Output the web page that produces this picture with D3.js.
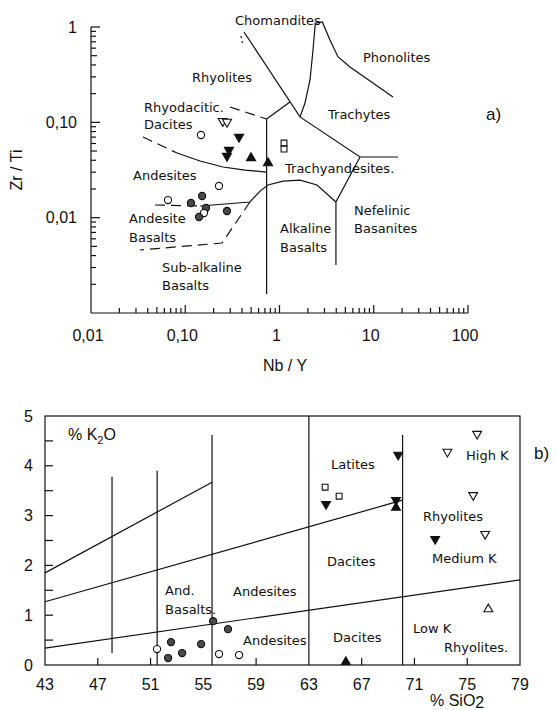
<!DOCTYPE html>
<html>
<head>
<meta charset="utf-8">
<script src="https://cdn.jsdelivr.net/npm/d3@7"></script>
<style>
body{margin:0;background:#fff;}
svg{display:block;}
.lbl{font-family:"DejaVu Sans",sans-serif;font-size:13px;fill:#111;}
.tick{font-family:"Liberation Sans",Arial,sans-serif;font-size:16px;fill:#111;}
.ln{fill:none;stroke:#111;stroke-width:1.2;}
</style>
</head>
<body>
<div id="canvas"></div>
<script>
// ---- panel a : Zr/Ti vs Nb/Y ----
var aNbY  = [0.25,0.277,0.147,0.372,0.291,0.277,0.499,0.755,1.117,1.117,
             0.228,0.0656,0.115,0.151,0.166,0.158,0.140,0.277];
var aZrTi = [0.103,0.101,0.0736,0.0702,0.0513,0.0443,0.0423,0.0374,0.0607,0.0525,
             0.0215,0.0153,0.01425,0.01687,0.01263,0.01119,0.01016,0.01175];
var aType = ["od","od","oc","fd","fd","fd","ft","ft","os","os",
             "oc","oc","fc","fc","fc","oc","fc","fc"];
var aXTicks = [0.01,0.1,1,10,100];
var aXTickLabels = ["0,01","0,10","1","10","100"];
var aYTicks = [1,0.1,0.01];
var aYTickLabels = ["1","0,10","0,01"];

// field boundaries [Nb/Y, Zr/Ti]
var aSolid = [
  [[0.42,0.887],[1.65,0.114],[7.15,0.0433],[18.1,0.0433]],
  [[7.15,0.0433],[3.97,0.0146],[3.97,0.00319]],
  [[0.73,0.1084],[1.29,0.1634]],
  [[0.73,0.1084],[0.73,0.00158]],
  [[0.0818,0.0477],[0.1434,0.0393],[0.2515,0.034],[0.4305,0.0316],[0.73,0.0301]],
  [[0.1434,0.01325],[0.486,0.0146],[0.621,0.019],[0.755,0.022],[1.089,0.0242],[1.65,0.0248],[2.5,0.022],[3.97,0.0146]],
  [[1.65,0.114],[1.865,0.1595],[2.107,0.278],[2.267,0.574],[2.4,1.1],[2.85,1.13],[3.43,0.731],[4.18,0.485],[5.6,0.3805],[16.0,0.1844]]
];
var aDashed = [
  [[0.2985,0.145],[0.73,0.1084]],
  [[0.0356,0.0702],[0.0818,0.0477]],
  [[0.0478,0.01358],[0.1434,0.01325]],
  [[0.486,0.0146],[0.2455,0.00542],[0.0331,0.00458]]
];

// ---- panel b : K2O vs SiO2 ----
var bSiO2 = [51.49,52.55,52.33,53.39,54.83,55.74,56.87,56.19,57.71,
             65.8,76.6,75.75,73.5,75.45,76.36,72.57,69.77,64.23,65.29,64.3,69.6,69.6];
var bK2O  = [0.32,0.46,0.14,0.24,0.42,0.88,0.72,0.22,0.20,
             0.06,1.12,4.64,4.28,3.41,2.63,2.53,4.22,3.57,3.39,3.23,3.31,3.16];
var bType = ["oc","fc","fc","fc","fc","fc","fc","oc","oc",
             "ft","ot","od","od","od","od","fd","fd","os","os","fd","fd","ft"];
var bXTicks = [43,47,51,55,59,63,67,71,75,79];
var bYTicks = [0,1,2,3,4,5];
var bVert = [[48.08,0.24,3.78],[51.5,0,3.9],[55.66,0,4.62],[63,0,5],[70.1,0,4.62]];
var bSlant = [
  [[43,1.85],[55.66,3.67]],
  [[43,1.27],[70.1,3.31]],
  [[43,0.34],[79,1.71]]
];

var W = 557, H = 710;
var svg = d3.select("#canvas").append("svg").attr("width",W).attr("height",H);

function drawMarks(g, xs, ys, types, sx, sy, sz){
  types.forEach(function(t,i){
    var x = sx(xs[i]), y = sy(ys[i]);
    var filled = t.charAt(0)=="f";
    var kind = t.charAt(1);
    var m;
    if(kind=="c"){
      m = g.append("circle").attr("cx",x).attr("cy",y).attr("r",sz.c);
    }else{
      var sym = kind=="s" ? d3.symbolSquare : d3.symbolTriangle;
      var size = kind=="s" ? sz.s : sz.t;
      var rot = kind=="d" ? 180 : 0;
      m = g.append("path").attr("d",d3.symbol().type(sym).size(size)())
        .attr("transform","translate("+x+","+y+") rotate("+rot+")");
    }
    m.attr("stroke","#111").attr("stroke-width",1.1)
     .attr("fill", filled ? (kind=="c" ? "#4a4a4a" : "#111") : "#fff");
  });
}

// ===== panel a =====
var ax = d3.scaleLog().domain([0.01,100]).range([91,468]);
var ay = d3.scaleLog().domain([0.001,1]).range([313,27]);
var ga = svg.append("g");

// axes, ticks pointing inward
ga.append("line").attr("class","ln").attr("x1",ax(0.01)).attr("x2",ax(100)).attr("y1",ay(0.001)).attr("y2",ay(0.001));
ga.append("line").attr("class","ln").attr("x1",ax(0.01)).attr("x2",ax(0.01)).attr("y1",ay(0.001)).attr("y2",ay(1));
[0.01,0.1,1,10].forEach(function(d){
  for(var k=2;k<=10;k++){
    var v=d*k, L=(k==10)?8:(k==5?6:5);
    ga.append("line").attr("class","ln").attr("x1",ax(v)).attr("x2",ax(v)).attr("y1",ay(0.001)).attr("y2",ay(0.001)-L);
  }
});
[0.001,0.01,0.1].forEach(function(d){
  for(var k=2;k<=10;k++){
    var v=d*k, L=(k==10)?9:(k==5?6:5);
    ga.append("line").attr("class","ln").attr("x1",ax(0.01)).attr("x2",ax(0.01)+L).attr("y1",ay(v)).attr("y2",ay(v));
  }
});
aXTicks.forEach(function(v,i){
  ga.append("text").attr("class","tick").attr("x",ax(v)-3).attr("y",341)
    .attr("text-anchor","middle").text(aXTickLabels[i]);
});
aYTicks.forEach(function(v,i){
  ga.append("text").attr("class","tick").attr("x",77).attr("y",ay(v)).attr("dy","0.35em")
    .attr("text-anchor","end").text(aYTickLabels[i]);
});
ga.append("text").attr("class","tick").attr("x",285).attr("y",371).attr("text-anchor","middle").text("Nb / Y");
ga.append("text").attr("class","tick").attr("transform","translate(22,170) rotate(-90)")
  .attr("text-anchor","middle").text("Zr / Ti");

var aLine = d3.line().x(function(d){return ax(d[0]);}).y(function(d){return ay(d[1]);});
aSolid.forEach(function(p){ ga.append("path").attr("class","ln").attr("d",aLine(p)); });
aDashed.forEach(function(p){ ga.append("path").attr("class","ln").attr("stroke-dasharray","10,6").attr("d",aLine(p)); });
ga.append("path").attr("class","ln").attr("stroke-dasharray","2,3").attr("d",aLine([[0.39,0.8],[0.41,0.63]]));

var aLabels = [
  ["Chomandites",235,25],["Phonolites",363,62],["Trachytes",328,119],["Rhyolites",192,82],
  ["Rhyodacitic.",144,112],["Dacites",144,129],["Andesites",133,180],["Andesite",129,223],
  ["Basalts",129,242],["Sub-alkaline",162,272],["Basalts",162,290],["Trachyandesites.",285,173],
  ["Alkaline",280,233],["Basalts",280,252],["Nefelinic",354,215],["Basanites",354,233]
];
aLabels.forEach(function(l){ ga.append("text").attr("class","lbl").attr("x",l[1]).attr("y",l[2]).text(l[0]); });
ga.append("text").attr("class","tick").style("font-size","17px").attr("x",486).attr("y",120).text("a)");

drawMarks(ga, aNbY, aZrTi, aType, ax, ay, {c:3.6,t:36,s:34});

// ===== panel b =====
var bx = d3.scaleLinear().domain([43,79]).range([45,520]);
var by = d3.scaleLinear().domain([0,5]).range([665,416]);
var gb = svg.append("g");
gb.append("rect").attr("class","ln").attr("x",bx(43)).attr("y",by(5)).attr("width",bx(79)-bx(43)).attr("height",by(0)-by(5));
d3.range(0.5,5,0.5).forEach(function(v){
  gb.append("line").attr("class","ln").attr("x1",bx(43)).attr("x2",bx(43)+8).attr("y1",by(v)).attr("y2",by(v));
});
[47,51,59,67,71,75].forEach(function(v){
  gb.append("line").attr("class","ln").attr("x1",bx(v)).attr("x2",bx(v)).attr("y1",by(0)).attr("y2",by(0)-7);
});
bXTicks.forEach(function(v){
  gb.append("text").attr("class","tick").attr("x",bx(v)).attr("y",690).attr("text-anchor","middle").text(v);
});
bYTicks.forEach(function(v){
  gb.append("text").attr("class","tick").attr("x",33).attr("y",by(v)).attr("dy","0.35em").attr("text-anchor","end").text(v);
});
bVert.forEach(function(v){
  gb.append("line").attr("class","ln").attr("x1",bx(v[0])).attr("x2",bx(v[0])).attr("y1",by(v[1])).attr("y2",by(v[2]));
});
var bLine = d3.line().x(function(d){return bx(d[0]);}).y(function(d){return by(d[1]);});
bSlant.forEach(function(p){ gb.append("path").attr("class","ln").attr("d",bLine(p)); });

var k2o = gb.append("text").attr("class","tick").attr("x",68).attr("y",440);
k2o.append("tspan").text("% K");
k2o.append("tspan").attr("dy",4).style("font-size","11px").text("2");
k2o.append("tspan").attr("dy",-4).text("O");
var si = gb.append("text").attr("class","tick").attr("x",430).attr("y",706);
si.append("tspan").text("% SiO");
si.append("tspan").attr("dy",2).text("2");

var bLabels = [
  ["And.",165,595],["Basalts.",165,614],["Andesites",233,596],["Andesites",243,645],
  ["Latites",331,469],["Dacites",327,566],["Dacites",333,642],["High K",466,460],
  ["Rhyolites",423,521],["Medium K",432,563],["Low K",413,633],["Rhyolites.",444,652]
];
bLabels.forEach(function(l){ gb.append("text").attr("class","lbl").attr("x",l[1]).attr("y",l[2]).text(l[0]); });
gb.append("text").attr("class","tick").style("font-size","17px").attr("x",534).attr("y",459).text("b)");

drawMarks(gb, bSiO2, bK2O, bType, bx, by, {c:3.6,t:34,s:34});
</script>
</body>
</html>
